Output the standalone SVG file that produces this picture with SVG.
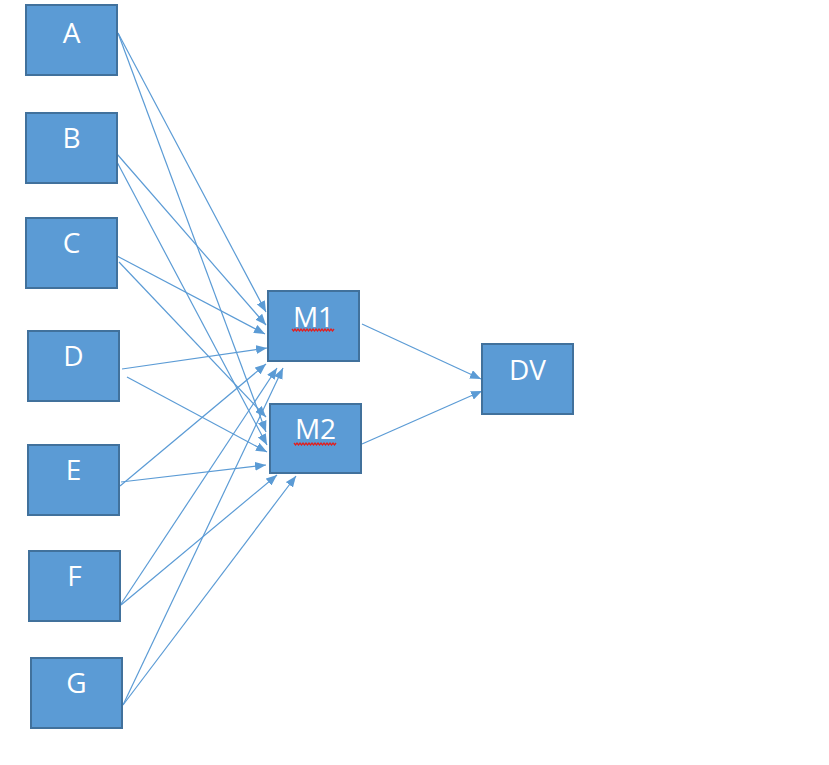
<svg xmlns="http://www.w3.org/2000/svg" width="829" height="765" viewBox="0 0 829 765">
<style>
.box{fill:#5B9BD5;stroke:#41719C;stroke-width:2}
.lbl{fill:#ffffff;font-family:"Open Sans","Liberation Sans",sans-serif;font-size:28px;text-anchor:middle}
.edge{stroke:#5B9BD5;stroke-width:1.2;fill:none;marker-end:url(#ah)}
.sq{stroke:#E02020;stroke-width:1.3;fill:none}
</style>
<defs>
<marker id="ah" markerUnits="userSpaceOnUse" markerWidth="11" markerHeight="9" refX="11" refY="4.5" orient="auto">
<path d="M0,0 L11,4.5 L0,9 z" fill="#5B9BD5"/>
</marker>
</defs>
<rect width="829" height="765" fill="#ffffff"/>
<g id="connectors">
<line class="edge" x1="118" y1="33" x2="266" y2="312"/>
<line class="edge" x1="118" y1="33" x2="266" y2="432"/>
<line class="edge" x1="117" y1="154" x2="266" y2="325"/>
<line class="edge" x1="117" y1="162" x2="267" y2="445"/>
<line class="edge" x1="117" y1="256" x2="265" y2="334"/>
<line class="edge" x1="119" y1="262" x2="266" y2="417"/>
<line class="edge" x1="122" y1="369" x2="267" y2="348"/>
<line class="edge" x1="127" y1="377" x2="267" y2="452"/>
<line class="edge" x1="120" y1="486" x2="266" y2="364"/>
<line class="edge" x1="121" y1="482" x2="266" y2="465"/>
<line class="edge" x1="121" y1="604" x2="277" y2="368"/>
<line class="edge" x1="121" y1="605" x2="277" y2="475"/>
<line class="edge" x1="123" y1="705" x2="283" y2="368"/>
<line class="edge" x1="123" y1="705" x2="296" y2="476"/>
<line class="edge" x1="362" y1="324" x2="481" y2="379"/>
<line class="edge" x1="362" y1="444" x2="482" y2="391"/>
</g>
<g id="node-A"><rect class="box" x="26" y="5" width="91" height="70"/><text class="lbl" x="71.5" y="43">A</text></g>
<g id="node-B"><rect class="box" x="26" y="113" width="91" height="70"/><text class="lbl" x="71.5" y="148">B</text></g>
<g id="node-C"><rect class="box" x="26" y="218" width="91" height="70"/><text class="lbl" x="71.5" y="253">C</text></g>
<g id="node-D"><rect class="box" x="28" y="331" width="91" height="70"/><text class="lbl" x="73.5" y="366">D</text></g>
<g id="node-E"><rect class="box" x="28" y="445" width="91" height="70"/><text class="lbl" x="73.5" y="480">E</text></g>
<g id="node-F"><rect class="box" x="29" y="551" width="91" height="70"/><text class="lbl" x="74.5" y="586">F</text></g>
<g id="node-G"><rect class="box" x="31" y="658" width="91" height="70"/><text class="lbl" x="76.5" y="693">G</text></g>
<g id="node-M1"><rect class="box" x="268" y="291" width="91" height="70"/><text class="lbl" x="313.5" y="327">M1</text>
<path class="sq" d="M292,329 l1.5,2 l1.5,-2 l1.5,2 l1.5,-2 l1.5,2 l1.5,-2 l1.5,2 l1.5,-2 l1.5,2 l1.5,-2 l1.5,2 l1.5,-2 l1.5,2 l1.5,-2 l1.5,2 l1.5,-2 l1.5,2 l1.5,-2 l1.5,2 l1.5,-2 l1.5,2 l1.5,-2 l1.5,2 l1.5,-2 l1.5,2 l1.5,-2 l1.5,2 l1.5,-2"/></g>
<g id="node-M2"><rect class="box" x="270" y="404" width="91" height="69"/><text class="lbl" x="315.5" y="439">M2</text>
<path class="sq" d="M294,443 l1.5,2 l1.5,-2 l1.5,2 l1.5,-2 l1.5,2 l1.5,-2 l1.5,2 l1.5,-2 l1.5,2 l1.5,-2 l1.5,2 l1.5,-2 l1.5,2 l1.5,-2 l1.5,2 l1.5,-2 l1.5,2 l1.5,-2 l1.5,2 l1.5,-2 l1.5,2 l1.5,-2 l1.5,2 l1.5,-2 l1.5,2 l1.5,-2 l1.5,2 l1.5,-2"/></g>
<g id="node-DV"><rect class="box" x="482" y="344" width="91" height="70"/><text class="lbl" x="527.5" y="380">DV</text></g>
</svg>
